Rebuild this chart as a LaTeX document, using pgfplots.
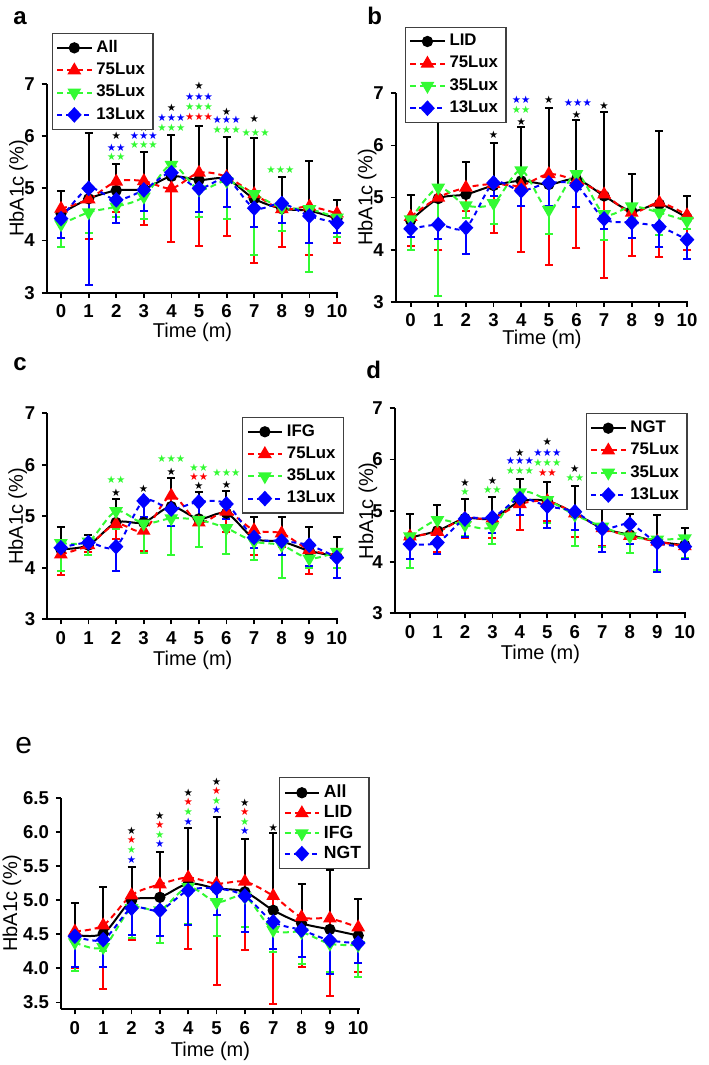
\documentclass[border=0pt]{standalone}
\usepackage{pgfplots}
\pgfplotsset{compat=1.18}
\usepackage{pgfplotstable}
\usepackage{fontspec}
\setmainfont{Liberation Sans}
\newfontfamily\symfont{DejaVu Sans}

\definecolor{cred}{RGB}{255,0,0}
\definecolor{cgreen}{RGB}{50,250,50}
\definecolor{cblue}{RGB}{0,0,255}

% columns: month, black mean, black upper SD, red mean, red lower SD,
% green mean, green lower SD, blue mean, blue lower SD
\pgfplotstableread{
x k kt r rb g gb b bb
0 4.52 4.94 4.61 4.05 4.31 3.87 4.42 4.04
1 4.80 6.06 4.79 4.03 4.54 4.15 5.00 3.14
2 4.96 5.46 5.13 4.55 4.65 4.46 4.78 4.34
3 4.99 5.69 5.14 4.29 4.84 4.42 4.97 4.57
4 5.23 6.02 5.00 3.98 5.45 4.98 5.30 4.98
5 5.16 6.19 5.30 3.90 4.98 4.45 5.00 4.54
6 5.18 5.99 5.22 4.09 5.14 4.41 5.18 4.65
7 4.80 5.96 4.89 3.56 4.89 3.72 4.62 4.25
8 4.61 5.21 4.60 3.87 4.63 4.18 4.71 4.33
9 4.57 5.52 4.65 3.72 4.60 3.39 4.47 3.96
10 4.42 4.78 4.52 3.96 4.44 4.06 4.34 4.15
}\tabA
\pgfplotstableread{
x k kt r rb g gb b bb
0 4.56 5.05 4.63 4.06 4.58 4.00 4.40 4.25
1 4.98 6.59 5.00 4.00 5.19 3.10 4.48 4.20
2 5.06 5.69 5.19 4.75 4.85 4.60 4.42 3.92
3 5.23 6.05 5.26 4.32 4.89 4.50 5.28 5.03
4 5.32 6.35 5.23 3.95 5.52 5.30 5.13 4.83
5 5.25 6.71 5.45 3.71 4.76 4.29 5.28 4.83
6 5.35 6.48 5.32 4.03 5.45 5.20 5.23 4.81
7 5.03 6.65 5.06 3.45 4.68 4.18 4.59 4.39
8 4.74 5.46 4.71 3.88 4.83 4.60 4.52 4.23
9 4.87 6.28 4.90 3.86 4.71 4.28 4.44 4.05
10 4.61 5.02 4.66 4.00 4.55 4.40 4.19 3.82
}\tabB
\pgfplotstableread{
x k kt r rb g gb b bb
0 4.36 4.79 4.26 3.86 4.48 3.94 4.39 4.30
1 4.44 4.64 4.44 4.31 4.51 4.24 4.49 4.40
2 4.88 5.34 4.85 4.55 5.10 4.75 4.41 3.93
3 4.88 5.30 4.72 4.33 4.86 4.29 5.30 4.98
4 5.19 5.75 5.40 4.95 4.96 4.25 5.14 4.82
5 4.95 5.47 4.88 4.41 4.93 4.41 5.28 4.99
6 5.06 5.49 5.09 4.70 4.77 4.26 5.24 4.95
7 4.57 4.98 4.73 4.24 4.51 4.15 4.59 4.39
8 4.51 4.99 4.67 4.40 4.44 3.81 4.52 4.24
9 4.33 4.79 4.35 3.88 4.18 4.00 4.44 4.04
10 4.22 4.59 4.25 4.00 4.31 3.99 4.20 3.81
}\tabC
\pgfplotstableread{
x k kt r rb g gb b bb
0 4.48 4.93 4.50 4.05 4.50 3.88 4.35 4.05
1 4.61 5.12 4.59 4.20 4.82 4.16 4.38 4.16
2 4.85 5.23 4.85 4.46 4.72 4.50 4.84 4.48
3 4.85 5.26 4.85 4.46 4.69 4.35 4.87 4.56
4 5.18 5.62 5.13 4.63 5.36 5.10 5.24 4.91
5 5.19 5.57 5.19 4.80 5.21 4.77 5.09 4.66
6 4.95 5.48 4.95 4.48 4.92 4.32 4.98 4.63
7 4.66 5.08 4.66 4.31 4.69 4.30 4.65 4.20
8 4.53 4.93 4.51 4.18 4.50 4.18 4.74 4.35
9 4.40 4.91 4.40 3.83 4.44 3.85 4.38 3.81
10 4.33 4.66 4.31 4.05 4.46 4.07 4.30 4.05
}\tabD
\pgfplotstableread{
x k kt r rb g gb b bb
0 4.49 4.96 4.54 4.01 4.38 3.96 4.47 4.02
1 4.51 5.19 4.63 3.70 4.31 4.25 4.42 4.02
2 4.99 5.49 5.07 4.42 4.88 4.44 4.88 4.49
3 5.04 5.71 5.23 4.37 4.85 4.37 4.85 4.48
4 5.24 6.05 5.33 4.29 5.19 4.65 5.14 4.63
5 5.17 6.21 5.24 3.76 4.97 4.48 5.17 4.78
6 5.12 5.90 5.27 4.27 5.05 4.61 5.06 4.53
7 4.85 5.98 5.06 3.48 4.56 4.24 4.68 4.29
8 4.66 5.23 4.75 4.02 4.53 4.07 4.56 4.17
9 4.57 5.44 4.73 3.60 4.36 3.95 4.41 3.92
10 4.48 5.01 4.60 3.94 4.34 3.87 4.37 4.08
}\tabE

% significance stars: colour, x, y, number of stars
\newcommand{\sA}{★}
\newcommand{\sB}{★★}
\newcommand{\sC}{★★★}
\newcommand{\sig}[4]{\node[text=#1, font=\symfont\fontsize{5.2}{5.5}\selectfont, inner sep=0pt] at (axis cs:#2,#3) {#4};}

\pgfplotsset{
  hbaxis/.style={
    scale only axis, clip=false,
    axis lines=left, axis line style={-, line width=1pt},
    xtick={0,...,10}, tick align=outside, major tick length=2.5pt,
    every tick/.style={black, line width=0.9pt},
    tick label style={font=\bfseries\fontsize{9.3}{10}\selectfont},
    /pgf/number format/assume math mode=true,
    xlabel={Time (m)}, ylabel={HbA1c (\%)},
    label style={font=\bfseries\fontsize{9}{10}\selectfont},
    legend cell align=left,
    legend style={draw=black!75, line width=0.6pt, fill=white,
      font=\bfseries\fontsize{8.4}{9}\selectfont,
      inner xsep=2pt, inner ysep=1.5pt, row sep=-0.2pt, anchor=north west},
  },
  error bars/ebar/.style={error bar style={solid, line width=1pt},
    error mark options={rotate=90, mark size=2pt, solid, line width=1pt}},
  sk/.style={black, line width=1pt, smooth, mark=*, mark size=2.3pt,
    mark options={solid}, error bars/.cd, y dir=plus, y explicit, ebar},
  sr/.style={cred, line width=1pt, smooth, dash pattern=on 3pt off 2pt,
    mark=triangle*, mark size=3pt, mark options={solid},
    error bars/.cd, y dir=minus, y explicit, ebar},
  sg/.style={cgreen, line width=1pt, smooth, dash pattern=on 3pt off 2pt,
    mark=triangle*, mark size=3pt, mark options={solid, rotate=180},
    error bars/.cd, y dir=minus, y explicit, ebar},
  sb/.style={cblue, line width=1pt, smooth, dash pattern=on 2.5pt off 2pt,
    mark=diamond*, mark size=3.2pt, mark options={solid, xscale=1.25},
    error bars/.cd, y dir=minus, y explicit, ebar},
}

\newcommand{\series}[1]{%
  \addplot[sk] table[x=x, y=k, y error expr=\thisrow{kt}-\thisrow{k}] {#1};
  \addplot[sr] table[x=x, y=r, y error expr=\thisrow{r}-\thisrow{rb}] {#1};
  \addplot[sg] table[x=x, y=g, y error expr=\thisrow{g}-\thisrow{gb}] {#1};
  \addplot[sb] table[x=x, y=b, y error expr=\thisrow{b}-\thisrow{bb}] {#1};
}

\begin{document}
\begin{tikzpicture}
\path[use as bounding box] (0pt,0pt) rectangle (354pt,-532.5pt);

% ---- a ----
\begin{axis}[hbaxis, at={(23.35pt,-146.35pt)}, anchor=south west,
  width=145.85pt, height=104.35pt,
  xmin=-0.52, xmax=10.05, ymin=3, ymax=7, ytick={3,...,7},
  every axis x label/.style={at={(axis description cs:0.5,-0.19)}, anchor=center},
  every axis y label/.style={at={(axis description cs:-0.097,0.5)}, rotate=90, anchor=center},
  legend style={at={(rel axis cs:0.017,1.246)}}]
\series{\tabA}
\legend{All,75Lux,35Lux,13Lux}
\sig{black}{2}{6.00}{\sA}\sig{cblue}{2}{5.78}{\sB}\sig{cgreen}{2}{5.61}{\sB}
\sig{black}{3}{6.17}{\sA}\sig{cblue}{3}{6.00}{\sC}\sig{cgreen}{3}{5.84}{\sC}
\sig{black}{4}{6.54}{\sA}\sig{cblue}{4}{6.35}{\sC}\sig{cgreen}{4}{6.17}{\sC}
\sig{black}{5}{6.96}{\sA}\sig{cblue}{5}{6.76}{\sC}\sig{cgreen}{5}{6.56}{\sC}\sig{cred}{5}{6.38}{\sC}
\sig{black}{6}{6.47}{\sA}\sig{cblue}{6}{6.31}{\sC}\sig{cgreen}{6}{6.12}{\sC}
\sig{black}{7}{6.33}{\sA}\sig{cgreen}{7.05}{6.07}{\sC}
\sig{cgreen}{7.95}{5.35}{\sC}
\end{axis}

% ---- b ----
\begin{axis}[hbaxis, at={(197.85pt,-150.85pt)}, anchor=south west,
  width=146.35pt, height=104.2pt,
  xmin=-0.54, xmax=10.05, ymin=3, ymax=7, ytick={3,...,7},
  every axis x label/.style={at={(axis description cs:0.5,-0.18)}, anchor=center},
  every axis y label/.style={at={(axis description cs:-0.097,0.5)}, rotate=90, anchor=center},
  legend style={at={(rel axis cs:0.031,1.32)}}]
\series{\tabB}
\legend{LID,75Lux,35Lux,13Lux}
\sig{black}{3}{6.21}{\sA}
\sig{black}{4}{6.45}{\sA}\sig{cgreen}{4}{6.68}{\sB}\sig{cblue}{4}{6.87}{\sB}
\sig{black}{5}{6.87}{\sA}
\sig{black}{6}{6.59}{\sA}\sig{cblue}{6.05}{6.81}{\sC}
\sig{black}{7}{6.77}{\sA}
\end{axis}

% ---- c ----
\begin{axis}[hbaxis, at={(23.65pt,-309.65pt)}, anchor=south west,
  width=145.45pt, height=103pt,
  xmin=-0.49, xmax=10.05, ymin=3, ymax=7, ytick={3,...,7},
  every axis x label/.style={at={(axis description cs:0.5,-0.2)}, anchor=center},
  every axis y label/.style={at={(axis description cs:-0.102,0.5)}, rotate=90, anchor=center},
  legend style={at={(rel axis cs:0.670,0.983)}}]
\series{\tabC}
\legend{IFG,75Lux,35Lux,13Lux}
\sig{black}{2}{5.45}{\sA}\sig{cgreen}{2}{5.71}{\sB}
\sig{black}{3}{5.53}{\sA}
\sig{black}{4}{5.87}{\sA}\sig{cgreen}{4}{6.11}{\sC}
\sig{black}{5}{5.60}{\sA}\sig{cred}{5}{5.76}{\sB}\sig{cgreen}{5}{5.94}{\sB}
\sig{black}{6}{5.61}{\sA}\sig{cgreen}{6}{5.85}{\sC}
\end{axis}

% ---- d ----
\begin{axis}[hbaxis, at={(197.35pt,-306.65pt)}, anchor=south west,
  width=145.75pt, height=102.5pt,
  xmin=-0.555, xmax=10.05, ymin=3, ymax=7, ytick={3,...,7},
  every axis x label/.style={at={(axis description cs:0.5,-0.2)}, anchor=center},
  every axis y label/.style={at={(axis description cs:-0.092,0.5)}, rotate=90, anchor=center},
  legend style={at={(rel axis cs:0.655,0.976)}}]
\series{\tabD}
\legend{NGT,75Lux,35Lux,13Lux}
\sig{black}{2}{5.55}{\sA}\sig{cgreen}{2}{5.37}{\sA}
\sig{black}{3}{5.58}{\sA}\sig{cgreen}{3}{5.42}{\sB}
\sig{black}{4}{6.14}{\sA}\sig{cblue}{4}{5.97}{\sC}\sig{cgreen}{4}{5.78}{\sC}
\sig{black}{5}{6.34}{\sA}\sig{cblue}{5}{6.14}{\sC}\sig{cgreen}{5}{5.94}{\sC}\sig{cred}{5}{5.74}{\sB}
\sig{black}{6}{5.82}{\sA}\sig{cgreen}{6}{5.65}{\sB}
\end{axis}

% ---- e ----
\begin{axis}[hbaxis, at={(30.5pt,-504.65pt)}, anchor=south west,
  width=149.45pt, height=105.85pt,
  xmin=-0.49, xmax=10.06, ymin=3.4, ymax=6.5, ytick={3.5,4,...,6.5},
  yticklabel style={/pgf/number format/.cd, fixed, fixed zerofill, precision=1},
  every axis x label/.style={at={(axis description cs:0.5,-0.2)}, anchor=center},
  every axis y label/.style={at={(axis description cs:-0.164,0.5)}, rotate=90, anchor=center},
  legend style={at={(rel axis cs:0.730,1.096)}, row sep=-1.5pt,
    font=\bfseries\fontsize{8.8}{9.5}\selectfont}]
\series{\tabE}
\legend{All,LID,IFG,NGT}
\sig{black}{2}{6.01}{\sA}\sig{cred}{2}{5.88}{\sA}\sig{cgreen}{2}{5.73}{\sA}\sig{cblue}{2}{5.59}{\sA}
\sig{black}{3}{6.24}{\sA}\sig{cred}{3}{6.10}{\sA}\sig{cgreen}{3}{5.96}{\sA}\sig{cblue}{3}{5.82}{\sA}
\sig{black}{4}{6.57}{\sA}\sig{cred}{4}{6.44}{\sA}\sig{cgreen}{4}{6.29}{\sA}\sig{cblue}{4}{6.15}{\sA}
\sig{black}{5}{6.73}{\sA}\sig{cred}{5}{6.60}{\sA}\sig{cgreen}{5}{6.46}{\sA}\sig{cblue}{5}{6.32}{\sA}
\sig{black}{6}{6.43}{\sA}\sig{cred}{6}{6.29}{\sA}\sig{cgreen}{6}{6.15}{\sA}\sig{cblue}{6}{6.01}{\sA}
\sig{black}{7}{6.06}{\sA}
\end{axis}

% panel letters
\node[anchor=base west, inner sep=0pt, font=\bfseries\fontsize{12}{14}\selectfont] at (6.5pt,-12.5pt) {a};
\node[anchor=base west, inner sep=0pt, font=\bfseries\fontsize{12}{14}\selectfont] at (183.5pt,-12.5pt) {b};
\node[anchor=base west, inner sep=0pt, font=\bfseries\fontsize{12}{14}\selectfont] at (6.5pt,-185pt) {c};
\node[anchor=base west, inner sep=0pt, font=\bfseries\fontsize{12}{14}\selectfont] at (183pt,-189pt) {d};
\node[anchor=base west, inner sep=0pt, font=\fontsize{15}{17}\selectfont] at (7.5pt,-376.5pt) {e};
\end{tikzpicture}
\end{document}
